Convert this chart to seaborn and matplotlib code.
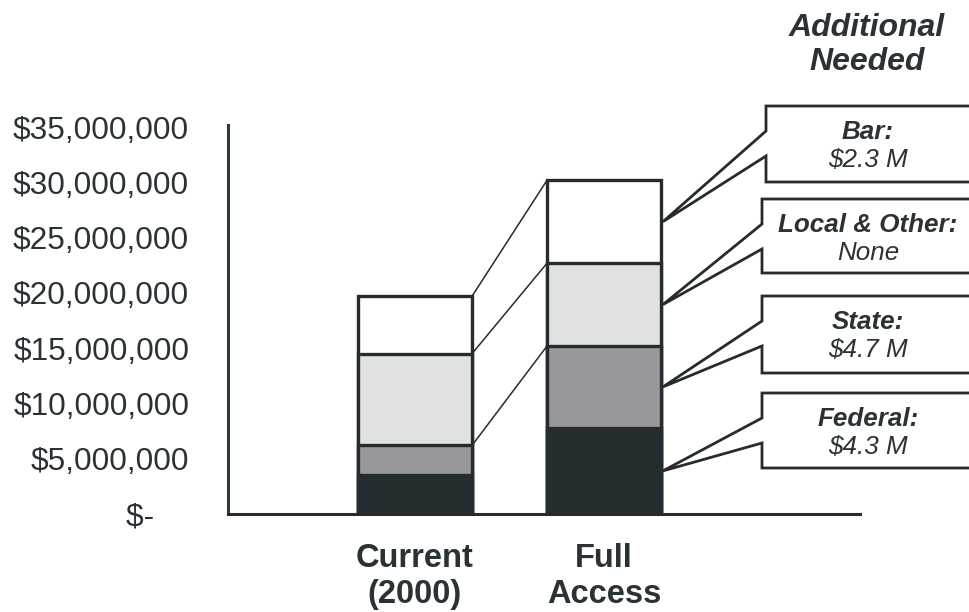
import matplotlib
matplotlib.use("Agg")
import matplotlib.pyplot as plt
from matplotlib.patches import Polygon
from matplotlib.ticker import FuncFormatter
import numpy as np
import pandas as pd
import seaborn as sns

# ---- data -------------------------------------------------------------
scenarios = ["Current\n(2000)", "Full\nAccess"]
sources = ["Federal", "State", "Local & Other", "Bar"]
federal = [3.5e6, 7.8e6]
state = [2.7e6, 7.4e6]
local_other = [8.3e6, 7.5e6]
bar = [5.2e6, 7.5e6]
y_ticks = [0, 5e6, 10e6, 15e6, 20e6, 25e6, 30e6, 35e6]

fills = {"Federal": "#262d31", "State": "#98989c",
         "Local & Other": "#e0e1e1", "Bar": "#ffffff"}
INK = "#262b2e"
TEXT = "#2b3236"

# ---- style ------------------------------------------------------------
sns.set_style("white")
plt.rcParams["font.family"] = ["Liberation Sans", "DejaVu Sans"]

W, H = 969, 612
fig = plt.figure(figsize=(W / 100, H / 100), dpi=100)


def px(x, y):
    """pixel (from top-left) -> figure fraction"""
    return x / W, 1 - y / H


left, top = px(228, 125)
right, bottom = px(860, 514)
ax = fig.add_axes([left, bottom, right - left, top - bottom])

# ---- stacked bars (drawn as overlaid cumulative totals) ---------------
layers = pd.DataFrame({"Federal": federal, "State": state,
                       "Local & Other": local_other, "Bar": bar},
                      index=scenarios)
cum = layers.cumsum(axis=1)
bw = 0.603
for src in reversed(sources):
    sns.barplot(x=list(scenarios), y=cum[src].values, color=fills[src],
                saturation=1, width=bw, edgecolor=INK, linewidth=2.4,
                ax=ax, zorder=3)

# series lines joining the segment tops of the two bars
for src in ["State", "Local & Other", "Bar"]:
    ax.plot([0 + bw / 2, 1 - bw / 2], [cum[src].iloc[0], cum[src].iloc[1]],
            color=INK, lw=1.1, zorder=2)

# ---- axes -------------------------------------------------------------
ax.set_xlim(-0.989, 2.354)
ax.set_ylim(0, 35.2e6)
ax.set_yticks(y_ticks)
ax.yaxis.set_major_formatter(
    FuncFormatter(lambda v, p: "$-    " if v == 0 else f"${v:,.0f}"))
ax.tick_params(axis="y", length=0, pad=28, labelsize=22.8, labelcolor=TEXT)
ax.set_xticks([0, 1])
ax.set_xticklabels(scenarios, fontsize=23.5, fontweight="bold",
                   color=TEXT, linespacing=1.2)
ax.tick_params(axis="x", length=0, pad=21)
ax.set_xlabel("")
ax.set_ylabel("")
for s in ["top", "right"]:
    ax.spines[s].set_visible(False)
ax.spines["left"].set_color("#2b3a40")
ax.spines["left"].set_linewidth(2.2)
ax.spines["bottom"].set_color(INK)
ax.spines["bottom"].set_linewidth(2.2)
ax.spines["bottom"].set_zorder(4)

# ---- "Additional Needed" callouts ------------------------------------
fig.text(*px(867, 45), "Additional\nNeeded", ha="center", va="center",
         fontsize=23, fontweight="bold", fontstyle="italic", color=TEXT,
         linespacing=1.15)

# box outline rows in pixels: (left, top, bottom)
boxes = {"Bar": (766, 106, 182), "Local & Other": (762, 199, 273),
         "State": (762, 296, 373), "Federal": (762, 393, 468)}
to_fig = ax.transData + fig.transFigure.inverted()
full = layers.iloc[1]
current = layers.iloc[0]
for src in sources:
    bl, bt, bb = boxes[src]
    mid = cum[src].iloc[1] - full[src] / 2
    tip = to_fig.transform((1 + bw / 2 + 0.01, mid))
    pts = [tip, px(bl, bt + 25), px(bl, bt), px(985, bt), px(985, bb),
           px(bl, bb), px(bl, bt + 50), tip]
    fig.add_artist(Polygon(pts, closed=True, facecolor="white",
                           edgecolor=INK, lw=2.0, joinstyle="miter"))
    extra = full[src] - current[src]
    value = "None" if extra <= 0 else f"${extra / 1e6:.1f} M"
    fig.text(*px(868, bt + 26), f"{src}:", ha="center", va="center",
             fontsize=18.7, fontweight="bold", fontstyle="italic", color=TEXT)
    fig.text(*px(868, bt + 54), value, ha="center", va="center",
             fontsize=18.7, fontstyle="italic", color=TEXT)

fig.savefig("out.png", dpi=100)
